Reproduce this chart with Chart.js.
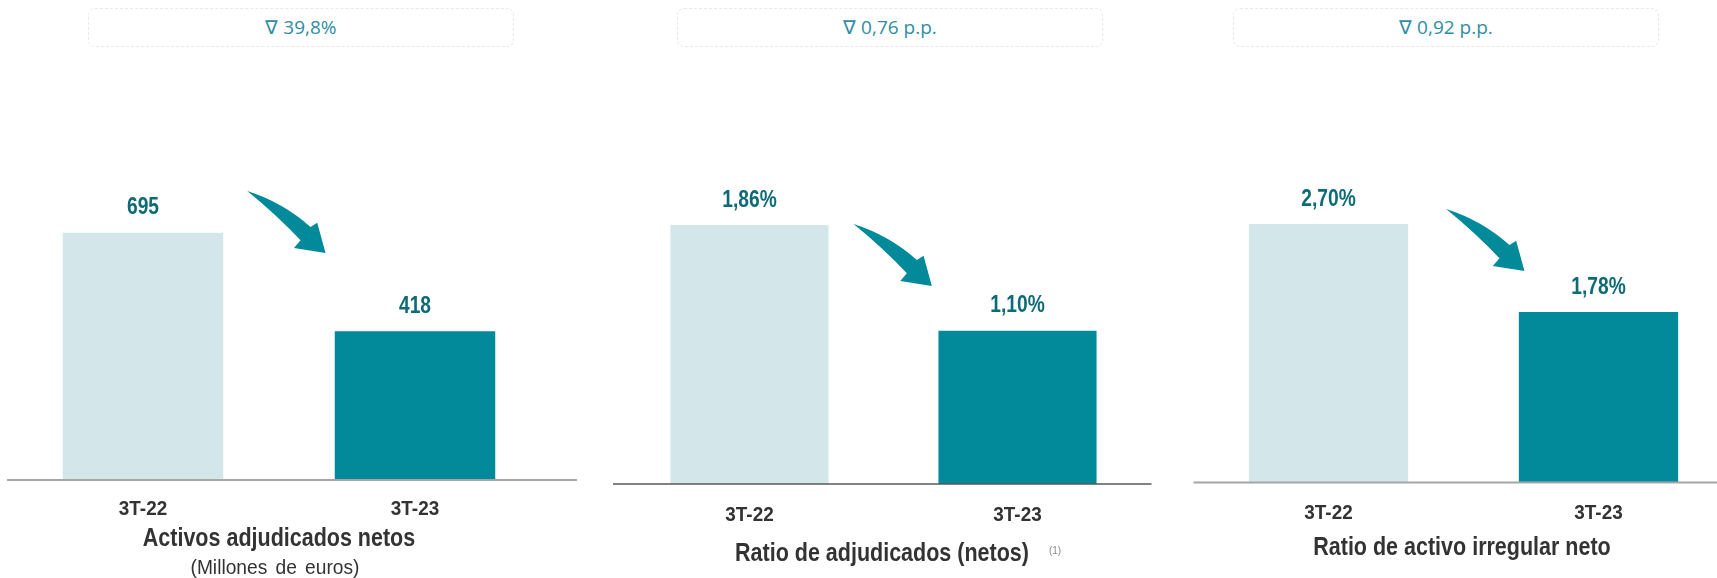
<!DOCTYPE html>
<html>
<head>
<meta charset="utf-8">
<script src="https://cdn.jsdelivr.net/npm/chart.js@4.4.0/dist/chart.umd.min.js"></script>
<style>
  html, body { margin:0; padding:0; background:#ffffff; width:1717px; height:578px; overflow:hidden; }
  body { position:relative; }
  canvas { position:absolute; left:0; top:0; }
  .badge { position:absolute; top:8px; height:39px; width:426px; box-sizing:border-box;
           border:1px dashed #e8e8e8; border-radius:7px; font-family:'Open Sans', sans-serif;
           font-size:19px; color:#2f8ea3; text-align:center; line-height:37px; }
  .ttl { position:absolute; white-space:nowrap;
         font-family:'Liberation Sans', Arial, sans-serif; color:#333333; }
  .ttl.b { font-weight:bold; font-size:25px; transform:translate(-50%,-50%) scaleX(0.86); }
  .ttl.s { font-size:20px; transform:translate(-50%,-50%) scaleX(0.96); word-spacing:3px; }
  .note { position:absolute; font-family:'Liberation Sans', sans-serif; font-size:10px; color:#8a8a8a; transform:translate(-50%,-50%); }
</style>
</head>
<body>
<div class="badge" style="left:88px">∇ 39,8%</div>
<div class="badge" style="left:677px">∇ 0,76 p.p.</div>
<div class="badge" style="left:1233px">∇ 0,92 p.p.</div>

<canvas id="c1" width="1760" height="578"></canvas>
<canvas id="c2" width="1760" height="578"></canvas>
<canvas id="c3" width="1760" height="578"></canvas>

<div class="ttl b" style="left:279px;top:537px">Activos adjudicados netos</div>
<div class="ttl s" style="left:275px;top:567px">(Millones de euros)</div>
<div class="ttl b" style="left:882px;top:552px">Ratio de adjudicados (netos)</div>
<div class="note" style="left:1055px;top:550px">(1)</div>
<div class="ttl b" style="left:1462px;top:546px">Ratio de activo irregular neto</div>

<script>
// ---- data ----
const categories = ['3T-22', '3T-23'];
const activosAdjudicados = [695, 418];          // millones de euros
const ratioAdjudicados = [1.86, 1.10];          // %
const ratioActivoIrregular = [2.70, 1.78];      // %
const yMaxValues = [1000, 2.5, 3.5];

const FONT = "'Liberation Sans', Arial, sans-serif";
const barColors = ['#d3e7ea', '#028a9b'];

function fmtInt(v) { return String(v); }
function fmtPct(v) { return v.toFixed(2).replace('.', ',') + '%'; }

// condensed text (emulates Arial Narrow)
function narrowText(ctx, text, x, y, font, color, sx) {
  ctx.save();
  ctx.font = font;
  ctx.fillStyle = color;
  ctx.textAlign = 'center';
  ctx.textBaseline = 'middle';
  ctx.translate(x, y);
  ctx.scale(sx, 1);
  ctx.fillText(text, 0, 0);
  ctx.restore();
}

function drawArrow(ctx, x, y, color) {
  ctx.save();
  ctx.translate(x, y);
  ctx.fillStyle = color;
  ctx.beginPath();
  ctx.moveTo(0, 0);
  ctx.quadraticCurveTo(36, 11.5, 63.3, 36);
  ctx.lineTo(70, 31.7);
  ctx.lineTo(78.3, 62);
  ctx.lineTo(46.7, 57);
  ctx.lineTo(53.3, 49.3);
  ctx.quadraticCurveTo(29, 23.5, 0, 0);
  ctx.closePath();
  ctx.fill();
  ctx.restore();
}

const decor = {
  id: 'decor',
  afterDatasetsDraw(chart, args, opts) {
    const ctx = chart.ctx, ca = chart.chartArea;
    const meta = chart.getDatasetMeta(0);
    const data = chart.data.datasets[0].data;
    const xs = chart.scales.x;
    ctx.save();
    // baseline
    const y0 = chart.scales.y.getPixelForValue(0);
    ctx.strokeStyle = opts.lineColor;
    ctx.lineWidth = opts.lineWidth;
    ctx.beginPath();
    ctx.moveTo(ca.left + opts.extL, y0);
    ctx.lineTo(ca.right + opts.extR, y0);
    ctx.stroke();
    // category labels (from the x scale)
    xs.ticks.forEach((t, i) => {
      narrowText(ctx, xs.getLabelForValue(t.value), xs.getPixelForTick(i), y0 + opts.tickOffset,
                 'bold 21px ' + FONT, '#333333', 0.9);
    });
    // value labels
    meta.data.forEach((bar, i) => {
      narrowText(ctx, opts.fmt(data[i]), bar.x, bar.y - 25, 'bold 24px ' + FONT, '#0d6b75', 0.8);
    });
    // arrow
    const b0 = meta.data[0];
    drawArrow(ctx, b0.x + b0.width / 2 + opts.arrowDx, b0.y + opts.arrowDy, '#028a9b');
    ctx.restore();
  }
};

function makeChart(id, values, yMax, pad, deco) {
  return new Chart(document.getElementById(id), {
    type: 'bar',
    data: {
      labels: categories,
      datasets: [{ data: values, backgroundColor: barColors, borderWidth: 0,
                   barPercentage: 0.59, categoryPercentage: 1.0 }]
    },
    options: {
      responsive: false,
      animation: false,
      events: [],
      layout: { padding: pad },
      plugins: { legend: { display: false }, tooltip: { enabled: false }, decor: deco },
      scales: {
        x: {
          grid: { display: false, drawTicks: false },
          border: { display: false },
          ticks: { display: false },
          afterFit(scale) { scale.height = 40; }
        },
        y: { display: false, min: 0, max: yMax }
      }
    },
    plugins: [decor]
  });
}

makeChart('c1', activosAdjudicados, yMaxValues[0],
  { left: 7, right: 1209, top: 124.2, bottom: 58 },
  { lineColor: '#a6a6a6', lineWidth: 2, extL: 0, extR: 26, fmt: fmtInt, arrowDx: 24, arrowDy: -41.7, tickOffset: 29 });

makeChart('c2', ratioAdjudicados, yMaxValues[1],
  { left: 615.5, right: 608.5, top: 135.9, bottom: 54 },
  { lineColor: '#595959', lineWidth: 1.5, extL: -2.5, extR: 0, fmt: fmtPct, arrowDx: 25, arrowDy: -1, tickOffset: 31 });

makeChart('c3', ratioActivoIrregular, yMaxValues[2],
  { left: 1193.5, right: 26.5, top: 147.4, bottom: 55.5 },
  { lineColor: '#a6a6a6', lineWidth: 2, extL: 0, extR: 0, fmt: fmtPct, arrowDx: 38, arrowDy: -15, tickOffset: 30.5 });
</script>
</body>
</html>
